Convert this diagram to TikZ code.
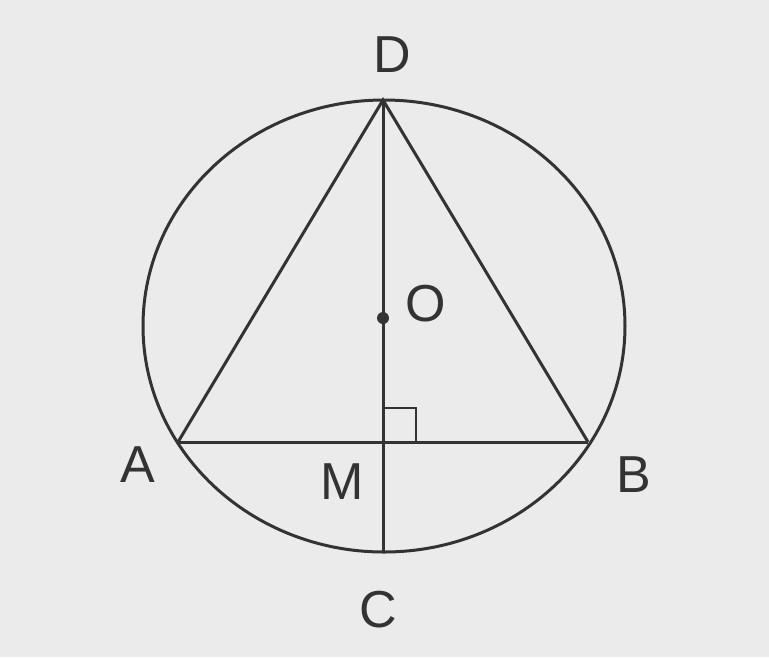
\documentclass[tikz,border=0pt]{standalone}
\usepackage{fontspec}
\setmainfont{Liberation Sans}
\begin{document}
\begin{tikzpicture}[x=1pt,y=-1pt,
  geo/.style={draw=black!80, line width=3pt},
  lbl/.style={font=\fontsize{52}{52}\selectfont, text=black!80, inner sep=0pt}]
\useasboundingbox (0,0) rectangle (769,657);
\fill[black!8] (0,0) rectangle (769,657);
\coordinate (O) at (384,326);
\coordinate (Odot) at (383,318);
\coordinate (D) at (383,100);
\coordinate (C) at (383,553);
\coordinate (A) at (178,442);
\coordinate (B) at (588,442);
\coordinate (M) at (383,442);
\draw[geo] (O) ellipse [x radius=241, y radius=226];
\draw[geo] (A) -- (D) -- (B);
\draw[geo] (A) -- (B);
\draw[geo] (D) -- (C);
\draw[geo, line width=2.5pt] (383,408) -- (416,408) -- (416,442);
\fill[black!80] (Odot) circle (6);
\node[lbl] (lD) at (392,55) {D};
\node[lbl] (lA) at (138,465) {A};
\node[lbl] (lB) at (634,475) {B};
\node[lbl] (lO) at (426,304) {O};
\node[lbl] (lC) at (378,610) {C};
\node[lbl] (lM) at (342,482) {M};
\end{tikzpicture}
\end{document}
